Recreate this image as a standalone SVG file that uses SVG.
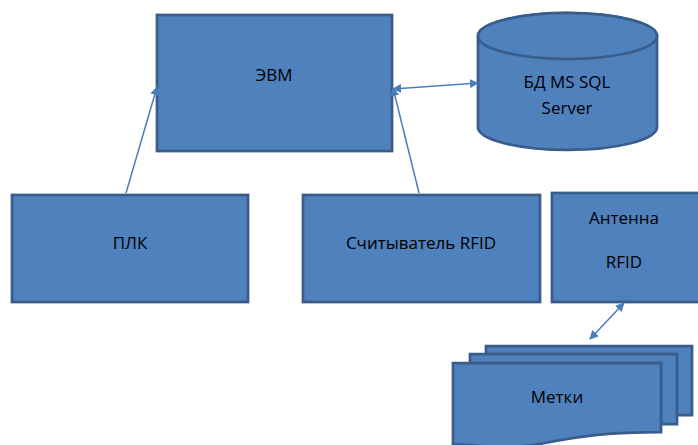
<svg xmlns="http://www.w3.org/2000/svg" width="698" height="445" viewBox="0 0 698 445">
<defs>
<style>
.n{fill:#4F81BD;stroke:#385D8A;stroke-width:2.75}
.t{font-family:"Open Sans","Liberation Sans",sans-serif;font-size:17px;fill:#000;text-anchor:middle}
.c{stroke:#4A7EBB;stroke-width:1.5;fill:none}
</style>
<marker id="a" viewBox="0 0 10 10" refX="9" refY="5" markerWidth="9" markerHeight="9" markerUnits="userSpaceOnUse" orient="auto-start-reverse">
<path d="M0,0 L10,5 L0,10 z" fill="#4A7EBB"/>
</marker>
</defs>
<rect width="698" height="445" fill="#fff"/>
<g id="evm"><rect class="n" x="157" y="15" width="235" height="136"/><text class="t" x="274" y="81">ЭВМ</text></g>
<g id="db">
<path class="n" d="M478,36 V127 A89.5,23 0 0 0 657,127 V36 A89.5,23 0 0 0 478,36 Z"/>
<ellipse class="n" cx="567.5" cy="36" rx="89.5" ry="23"/>
<text class="t" x="567" y="88">БД MS SQL</text>
<text class="t" x="567" y="114">Server</text>
</g>
<g id="plk"><rect class="n" x="12" y="195" width="236" height="107"/><text class="t" x="130" y="249">ПЛК</text></g>
<g id="reader"><rect class="n" x="303" y="195" width="237" height="107"/><text class="t" x="421" y="249">Считыватель RFID</text></g>
<g id="antenna"><rect class="n" x="552" y="193" width="150" height="109"/><text class="t" x="624" y="224">Антенна</text><text class="t" x="624" y="268">RFID</text></g>
<g id="tags">
<path class="n" d="M486,346 H692 V415 H676 V354 H486 Z"/>
<path class="n" d="M470,354 H677 V424 H661 V363 H470 Z"/>
<path class="n" d="M453,363 H661 V432 C610,432 580,436 545,443 C510,450 480,446 453,444 Z"/>
<text class="t" x="557" y="403">Метки</text>
</g>
<g id="connectors">
<line class="c" x1="126" y1="193" x2="157" y2="87" marker-end="url(#a)"/>
<line class="c" x1="419" y1="193" x2="393" y2="88" marker-end="url(#a)"/>
<line class="c" x1="393" y1="89" x2="478" y2="83" marker-start="url(#a)" marker-end="url(#a)"/>
<line class="c" x1="590" y1="339" x2="624" y2="303" marker-start="url(#a)" marker-end="url(#a)"/>
</g>
</svg>
